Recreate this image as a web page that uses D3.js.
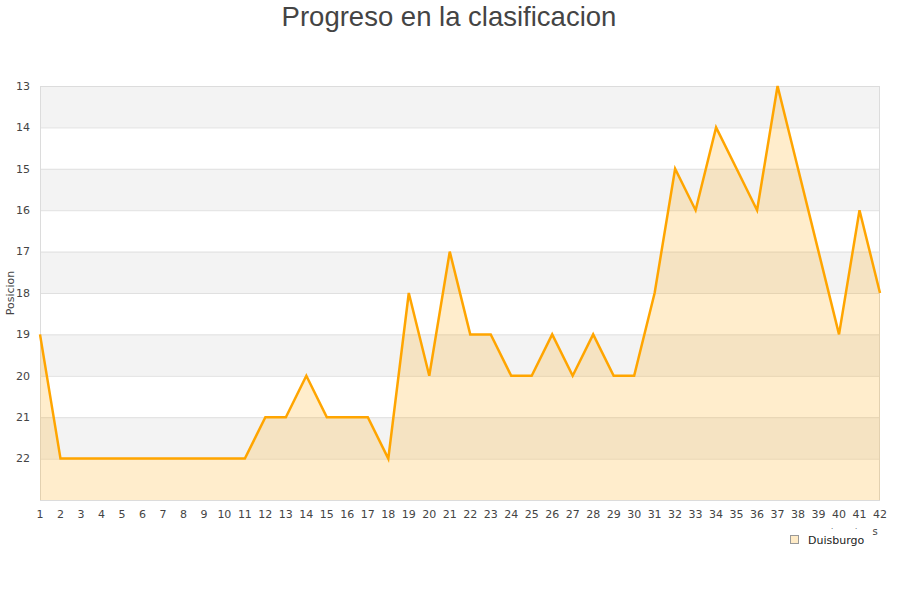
<!DOCTYPE html>
<html><head><meta charset="utf-8">
<script src="https://cdn.jsdelivr.net/npm/d3@7"></script>
<style>body{margin:0;background:#fff}svg{display:block}</style>
</head><body>
<svg id="c" width="900" height="600"></svg>
<script>
const jornadas = d3.range(1, 43);
const posiciones = [19,22,22,22,22,22,22,22,22,22,22,21,21,20,21,21,21,22,18,20,17,19,19,20,20,19,20,19,20,20,18,15,16,14,15,16,13,15,17,19,16,18];
const yTicks = [13,14,15,16,17,18,19,20,21,22];
const seriesName = "Duisburgo";
const title = "Progreso en la clasificacion";
const yTitle = "Posicion";

const svg = d3.select("#c");
const L = 40, R = 880, T = 86, B = 500;
const x = d3.scaleLinear().domain([1, 42]).range([L, R]);
const y = d3.scaleLinear().domain([13, 23]).range([T, B]);

// bands
svg.append("g").selectAll("rect").data(yTicks.filter((d,i)=>i%2===0)).join("rect")
  .attr("x", L).attr("width", R-L).attr("y", d=>y(d)).attr("height", d=>y(d+1)-y(d))
  .attr("fill", "#f3f3f3");
// grid
svg.append("g").selectAll("line").data(yTicks).join("line")
  .attr("x1", L).attr("x2", R).attr("y1", d=>y(d)+0.5).attr("y2", d=>y(d)+0.5)
  .attr("stroke", "#e0e0e0").attr("stroke-width", 1);
// border
svg.append("rect").attr("x", L+0.5).attr("y", T+0.5).attr("width", R-L-1).attr("height", B-T)
  .attr("fill", "none").attr("stroke", "#dcdcdc").attr("stroke-width", 1);

const data = jornadas.map((j,i)=>({j, p: posiciones[i]}));
svg.append("path").datum(data)
  .attr("d", d3.area().x(d=>x(d.j)).y0(y(23)).y1(d=>y(d.p)))
  .attr("fill", "rgba(255,165,0,0.2)");
svg.append("path").datum(data)
  .attr("d", d3.line().x(d=>x(d.j)).y(d=>y(d.p)))
  .attr("fill", "none").attr("stroke", "#ffa500").attr("stroke-width", 2.5).attr("stroke-linejoin","miter");

// y labels
svg.append("g").selectAll("text").data(yTicks).join("text")
  .attr("x", 30).attr("y", d=>y(d)).attr("dy", "0.35em").attr("text-anchor", "end")
  .attr("font-family", "DejaVu Sans").attr("font-size", 11).attr("fill", "#444").text(d=>d);
// x labels
svg.append("g").selectAll("text").data(jornadas).join("text")
  .attr("x", d=>x(d)).attr("y", 514).attr("dy", "0.35em").attr("text-anchor", "middle")
  .attr("font-family", "DejaVu Sans").attr("font-size", 11).attr("fill", "#444").text(d=>d);

// y title
svg.append("text").attr("transform", "translate(14,293) rotate(-90)").attr("text-anchor", "middle")
  .attr("font-family", "DejaVu Sans").attr("font-size", 11).attr("fill", "#444").text(yTitle);

// title
svg.append("text").attr("x", 449).attr("y", 26).attr("text-anchor", "middle")
  .attr("font-family", "Liberation Sans").attr("font-size", 27.5).attr("fill", "#444").text(title);

// clipped axis title remnants
svg.append("text").attr("x", 832).attr("y", 529).attr("text-anchor", "middle")
  .attr("font-family", "DejaVu Sans").attr("font-size", 7).attr("fill", "#444").text(".");
svg.append("text").attr("x", 856).attr("y", 529).attr("text-anchor", "middle")
  .attr("font-family", "DejaVu Sans").attr("font-size", 7).attr("fill", "#444").text(".");
svg.append("text").attr("x", 875).attr("y", 535).attr("text-anchor", "middle")
  .attr("font-family", "DejaVu Sans").attr("font-size", 10).attr("fill", "#444").text("s");

// legend
svg.append("rect").attr("x", 790.5).attr("y", 535.5).attr("width", 8).attr("height", 8)
  .attr("fill", "#ffebc6").attr("stroke", "#999").attr("stroke-width", 1);
svg.append("text").attr("x", 808).attr("y", 540).attr("dy", "0.35em")
  .attr("font-family", "DejaVu Sans").attr("font-size", 11).attr("fill", "#222").text(seriesName);
</script>
</body></html>
